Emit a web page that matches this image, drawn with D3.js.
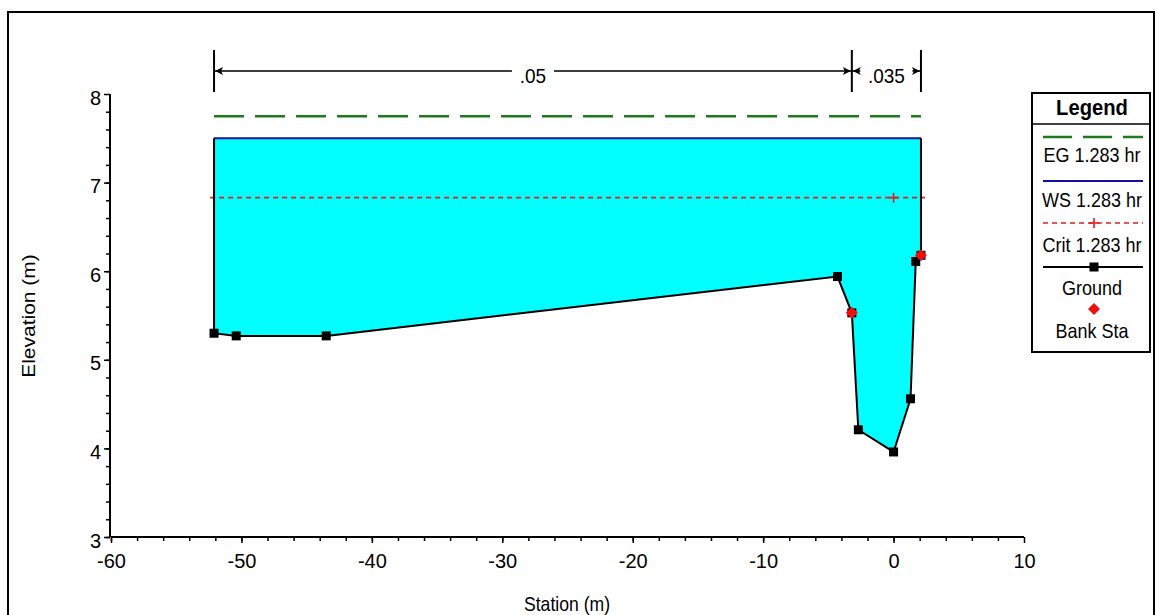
<!DOCTYPE html>
<html>
<head>
<meta charset="utf-8">
<title>Cross Section</title>
<script src="https://d3js.org/d3.v7.min.js"></script>
<style>
    body { margin: 0; background: #fff; }
    svg { display: block; font-family: "Liberation Sans", Arial, sans-serif; }
</style>
</head>
<body>
<script>
// data
var groundSta  = [-52.1, -50.4, -43.5, -4.3, -3.2, -2.7, 0.0, 1.3, 1.7, 2.1];
var groundElev = [5.30, 5.27, 5.27, 5.94, 5.53, 4.21, 3.96, 4.56, 6.11, 6.18];
var bankSta  = [-3.2, 2.1];
var bankElev = [5.53, 6.18];
var wsElev = 7.50;
var egElev = 7.75;
var critElev = 6.83;
var critSta = [-52.4, 2.4];
var critMarkSta = [0.0];
var nBreaks = [-52.1, -3.2, 2.1];
var nValues = [".05", ".035"];
var xTicks = [-60, -50, -40, -30, -20, -10, 0, 10];
var yTicks = [3, 4, 5, 6, 7, 8];
var legendItems = ["EG 1.283 hr", "WS 1.283 hr", "Crit 1.283 hr", "Ground", "Bank Sta"];

var width = 1155, height = 615;
var svg = d3.select("body").append("svg")
    .attr("width", width)
    .attr("height", height);

// outer frame
svg.append("rect")
    .attr("x", 8).attr("y", 12)
    .attr("width", 1146).attr("height", 620)
    .attr("fill", "none").attr("stroke", "#000").attr("stroke-width", 2);

var x = d3.scaleLinear().domain([-60, 10]).range([111, 1024]);
var y = d3.scaleLinear().domain([3, 8]).range([537, 94]);

var sq = 0.88; // titles in the picture are horizontally squeezed
var diamond = "M0,-6L6,0L0,6L-6,0Z";

// water fill
var left = groundSta[0], right = groundSta[groundSta.length - 1];
var poly = [[left, wsElev]];
groundSta.forEach(function(s, i) { poly.push([s, groundElev[i]]); });
poly.push([right, wsElev]);
svg.append("path")
    .attr("d", d3.line().x(function(d) { return x(d[0]); }).y(function(d) { return y(d[1]); })(poly) + "Z")
    .attr("fill", "#00ffff");

// EG
svg.append("line")
    .attr("x1", x(left)).attr("x2", x(right))
    .attr("y1", y(egElev)).attr("y2", y(egElev))
    .attr("stroke", "#1f7a1f").attr("stroke-width", 2.5)
    .attr("stroke-dasharray", "30,11");

// WS
svg.append("line")
    .attr("x1", x(left)).attr("x2", x(right))
    .attr("y1", y(wsElev)).attr("y2", y(wsElev))
    .attr("stroke", "#1010a0").attr("stroke-width", 2);

// Crit
svg.append("line")
    .attr("x1", x(critSta[0])).attr("x2", x(critSta[1]))
    .attr("y1", y(critElev)).attr("y2", y(critElev))
    .attr("stroke", "#e02020").attr("stroke-width", 1.6)
    .attr("stroke-dasharray", "5,4");
critMarkSta.forEach(function(s) {
    svg.append("path")
        .attr("d", "M" + (x(s) - 5) + "," + y(critElev) + "h10M" + x(s) + "," + (y(critElev) - 5) + "v10")
        .attr("stroke", "#e02020").attr("stroke-width", 1.6);
});

// ground line with walls up to the water surface
var gline = [[left, wsElev]];
groundSta.forEach(function(s, i) { gline.push([s, groundElev[i]]); });
gline.push([right, wsElev]);
svg.append("path")
    .attr("d", d3.line().x(function(d) { return x(d[0]); }).y(function(d) { return y(d[1]); })(gline))
    .attr("fill", "none").attr("stroke", "#000").attr("stroke-width", 2);

svg.selectAll(".gpt")
    .data(groundSta.map(function(s, i) { return [s, groundElev[i]]; }))
    .enter().append("rect")
    .attr("class", "gpt")
    .attr("x", function(d) { return x(d[0]) - 4.5; })
    .attr("y", function(d) { return y(d[1]) - 4.5; })
    .attr("width", 9).attr("height", 9)
    .attr("fill", "#000");

svg.selectAll(".bank")
    .data(bankSta.map(function(s, i) { return [s, bankElev[i]]; }))
    .enter().append("path")
    .attr("class", "bank")
    .attr("d", diamond)
    .attr("transform", function(d) { return "translate(" + x(d[0]) + "," + y(d[1]) + ")"; })
    .attr("fill", "#ee1010");

// axes
var xAxis = svg.append("g").attr("transform", "translate(0,537)")
    .call(d3.axisBottom(x).tickValues(xTicks).tickSize(6).tickPadding(11)
        .tickFormat(function(d) { return String(d); }));
svg.append("g").attr("transform", "translate(0,537)")
    .call(d3.axisBottom(x).tickValues(d3.range(-60, 10, 2)).tickSize(4).tickFormat(""))
    .select(".domain").remove();
var yAxis = svg.append("g").attr("transform", "translate(110,0)")
    .call(d3.axisLeft(y).tickValues(yTicks).tickSize(6).tickPadding(3)
        .tickFormat(function(d) { return String(d); }));
svg.append("g").attr("transform", "translate(110,0)")
    .call(d3.axisLeft(y).tickValues(d3.range(3, 8, 0.2)).tickSize(4).tickFormat(""))
    .select(".domain").remove();

svg.selectAll(".domain").attr("stroke", "#000").attr("stroke-width", 2);
xAxis.select(".domain").attr("d", "M111,0H1024");
yAxis.select(".domain").attr("d", "M0,94V537");
svg.selectAll(".tick line").attr("stroke", "#000").attr("stroke-width", 1.5);
svg.selectAll(".tick text")
    .attr("font-size", 20)
    .attr("font-family", "Liberation Sans, Arial, sans-serif")
    .attr("fill", "#000");
yAxis.selectAll(".tick text").attr("dy", "0.5em");

// axis titles
svg.append("text")
    .attr("transform", "translate(567,611) scale(" + sq + ",1)")
    .attr("text-anchor", "middle")
    .attr("font-size", 20).attr("fill", "#000")
    .text("Station (m)");
svg.append("text")
    .attr("transform", "translate(29,316) scale(" + sq + ",1) rotate(-90)")
    .attr("text-anchor", "middle").attr("dy", "0.35em")
    .attr("font-size", 21).attr("fill", "#000")
    .text("Elevation (m)");

// Manning n dimension lines
var dimY = 71;
nBreaks.forEach(function(s) {
    svg.append("line")
        .attr("x1", x(s)).attr("x2", x(s))
        .attr("y1", 50).attr("y2", 92)
        .attr("stroke", "#000").attr("stroke-width", 2);
});
nValues.forEach(function(v, i) {
    var a = x(nBreaks[i]), b = x(nBreaks[i + 1]), m = (a + b) / 2;
    var half = v.length * 5 + 6;
    svg.append("path")
        .attr("d", "M" + a + "," + dimY + "H" + (m - half) + "M" + (m + half) + "," + dimY + "H" + b)
        .attr("stroke", "#000").attr("stroke-width", 1.5);
    svg.append("path")
        .attr("d", "M" + (a + 1) + "," + dimY + "l8,-4l-2,4l2,4Z")
        .attr("fill", "#000");
    svg.append("path")
        .attr("d", "M" + (b - 1) + "," + dimY + "l-8,-4l2,4l-2,4Z")
        .attr("fill", "#000");
    svg.append("text")
        .attr("transform", "translate(" + m + "," + (dimY + 12) + ") scale(0.95,1)")
        .attr("text-anchor", "middle")
        .attr("font-size", 20).attr("fill", "#000")
        .text(v);
});

// legend
var lg = svg.append("g");
lg.append("rect")
    .attr("x", 1032).attr("y", 93).attr("width", 118).attr("height", 259)
    .attr("fill", "#fff").attr("stroke", "#000").attr("stroke-width", 2);
lg.append("line")
    .attr("x1", 1032).attr("x2", 1150).attr("y1", 124).attr("y2", 124)
    .attr("stroke", "#000").attr("stroke-width", 1.5);
lg.append("text")
    .attr("transform", "translate(1092,115) scale(0.92,1)")
    .attr("text-anchor", "middle").attr("font-size", 22).attr("font-weight", "bold")
    .attr("fill", "#000").text("Legend");

var lx1 = 1043, lx2 = 1143, lcx = 1094;
lg.append("line").attr("x1", lx1).attr("x2", lx2).attr("y1", 137).attr("y2", 137)
    .attr("stroke", "#1f7a1f").attr("stroke-width", 2.5).attr("stroke-dasharray", "29,11");
lg.append("line").attr("x1", lx1).attr("x2", lx2).attr("y1", 181).attr("y2", 181)
    .attr("stroke", "#1010a0").attr("stroke-width", 2);
lg.append("line").attr("x1", lx1).attr("x2", lx2).attr("y1", 223).attr("y2", 223)
    .attr("stroke", "#e02020").attr("stroke-width", 1.6).attr("stroke-dasharray", "5,4");
lg.append("path").attr("d", "M" + (lcx - 5) + ",223h10M" + lcx + ",218v10")
    .attr("stroke", "#e02020").attr("stroke-width", 1.6);
lg.append("line").attr("x1", lx1).attr("x2", lx2).attr("y1", 267).attr("y2", 267)
    .attr("stroke", "#000").attr("stroke-width", 2);
lg.append("rect").attr("x", lcx - 4.5).attr("y", 262.5).attr("width", 9).attr("height", 9)
    .attr("fill", "#000");
lg.append("path").attr("d", diamond)
    .attr("transform", "translate(" + lcx + ",309)").attr("fill", "#ee1010");

var lyBase = [162, 207, 252, 295, 338];
legendItems.forEach(function(t, i) {
    lg.append("text")
        .attr("transform", "translate(1092," + lyBase[i] + ") scale(0.9,1)")
        .attr("text-anchor", "middle").attr("font-size", 20).attr("fill", "#000")
        .text(t);
});
</script>
</body>
</html>
